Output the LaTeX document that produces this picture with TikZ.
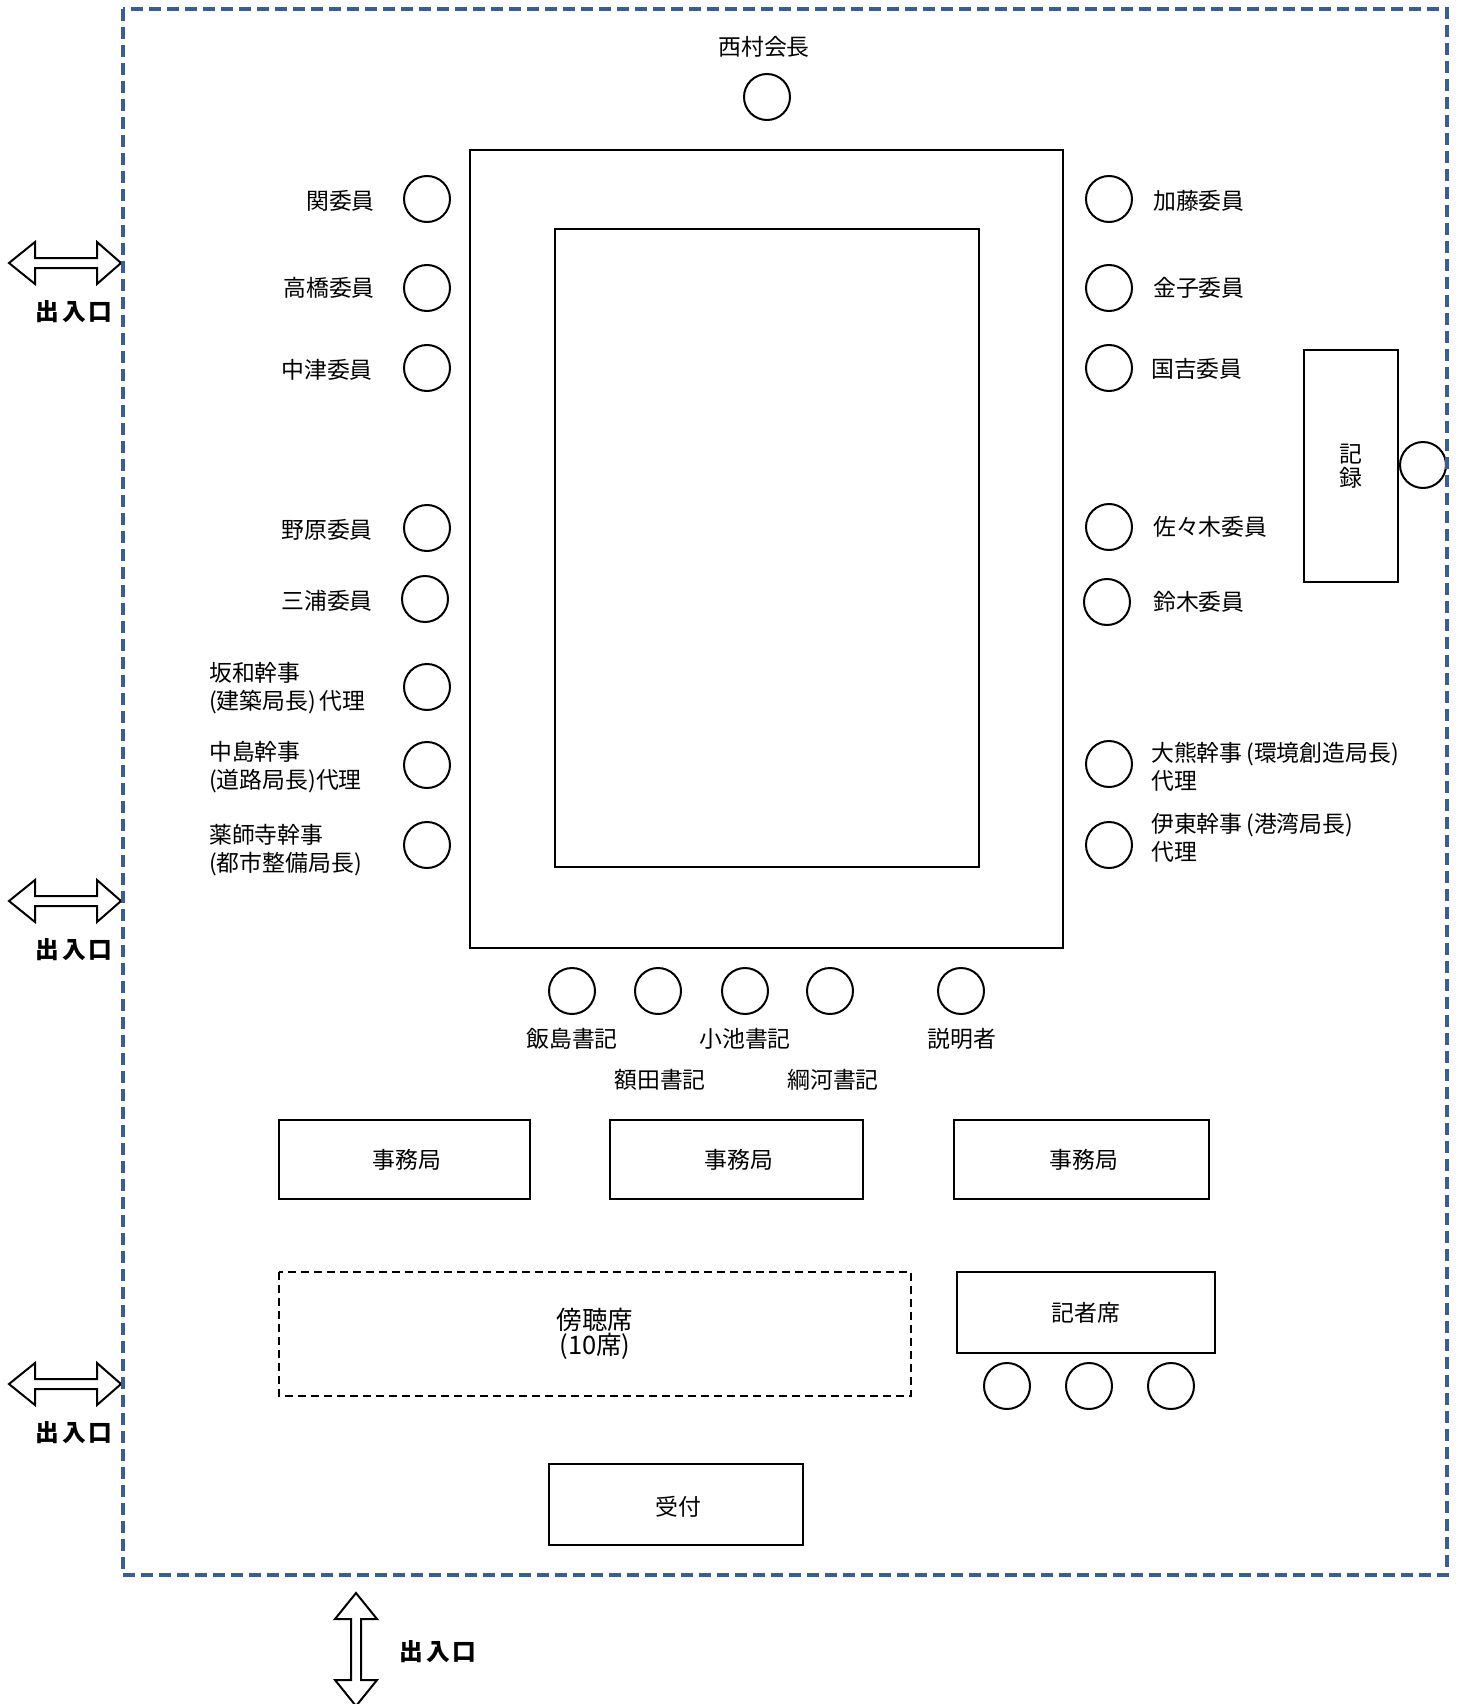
\documentclass[tikz,border=0pt]{standalone}
\usepackage{fontspec}
\setmainfont{Noto Sans CJK JP}
\definecolor{borderblue}{RGB}{59,94,145}

\begin{document}
\begin{tikzpicture}[x = 0.2mm, y = -0.2mm, font = \fontsize{13}{16}\selectfont,
    seat/.style = {draw, circle, line width = 0.4mm, minimum size = 9.2mm, inner sep = 0pt},
    desk/.style = {draw, line width = 0.4mm},
    door/.style = {draw, line width = 0.4mm, fill = white, line join = miter},
    doorlabel/.style = {font = \fontsize{13.5}{16}\selectfont\bfseries}]
        \useasboundingbox (0,0) rectangle (1461,1704);

        % table
        \draw[desk] (470,150) rectangle (1063,948);
        \draw[desk] (555,229) rectangle (979,867);

        \node[seat] (chair) at (767,97) {};
        \node (chairname) at (764,47) {西村会長};

        \node[seat] (l1) at (427,199) {};
        \node[seat] (l2) at (427,288) {};
        \node[seat] (l3) at (427,368) {};
        \node[seat] (l4) at (427,528) {};
        \node[seat] (l5) at (425,599) {};
        \node[seat] (l6) at (427,687) {};
        \node[seat] (l7) at (427,765) {};
        \node[seat] (l8) at (427,845) {};

        \node[anchor = east] (seki) at (381,201) {関委員};
        \node[anchor = east] (takahashi) at (381,288) {高橋委員};
        \node[anchor = east] (nakatsu) at (379,370) {中津委員};
        \node[anchor = east] (nohara) at (379,530) {野原委員};
        \node[anchor = east] (miura) at (379,601) {三浦委員};
        \node[anchor = west, align = left] (sakawa) at (203,688) {坂和幹事\\(建築局長)\,代理};
        \node[anchor = west, align = left] (nakajima) at (203,767) {中島幹事\\(道路局長)代理};
        \node[anchor = west, align = left] (yakushiji) at (203,850) {薬師寺幹事\\(都市整備局長)};

        \node[seat] (r1) at (1109,199) {};
        \node[seat] (r2) at (1109,288) {};
        \node[seat] (r3) at (1109,368) {};
        \node[seat] (r4) at (1109,527) {};
        \node[seat] (r5) at (1107,602) {};
        \node[seat] (r6) at (1109,764) {};
        \node[seat] (r7) at (1109,845) {};

        \node[anchor = west] (kato) at (1147,201) {加藤委員};
        \node[anchor = west] (kaneko) at (1147,288) {金子委員};
        \node[anchor = west] (kuniyoshi) at (1145,369) {国吉委員};
        \node[anchor = west] (sasaki) at (1147,527) {佐々木委員};
        \node[anchor = west] (suzuki) at (1147,602) {鈴木委員};
        \node[anchor = west, align = left] (okuma) at (1145,767) {大熊幹事\,(環境創造局長)\\代理};
        \node[anchor = west, align = left] (ito) at (1145,838) {伊東幹事\,(港湾局長)\\代理};

        % record
        \node[seat] (recseat) at (1423,465) {};
        \draw[desk] (1304,350) rectangle (1398,582);
        \node[align = center, font = \fontsize{13}{13.5}\selectfont] (record) at (1351,466) {記\\録};

        \node[seat] (b1) at (572,991) {};
        \node[seat] (b2) at (658,991) {};
        \node[seat] (b3) at (745,991) {};
        \node[seat] (b4) at (830,991) {};
        \node[seat] (b5) at (961,991) {};

        \node (iijima) at (572,1039) {飯島書記};
        \node (koike) at (745,1039) {小池書記};
        \node (setsumei) at (962,1039) {説明者};
        \node (nukada) at (660,1080) {額田書記};
        \node (tsunakawa) at (833,1080) {綱河書記};

        % secretariat
        \draw[desk] (279,1120) rectangle (530,1199);
        \draw[desk] (610,1120) rectangle (863,1199);
        \draw[desk] (954,1120) rectangle (1209,1199);
        \node (jimuA) at (407,1160) {事務局};
        \node (jimuB) at (739,1160) {事務局};
        \node (jimuC) at (1084,1160) {事務局};

        \draw[line width = 0.4mm, dash pattern = on 1.6mm off 1mm] (279,1272) rectangle (911,1396);
        \node[align = center, font = \fontsize{14.5}{13}\selectfont] (bocho) at (595,1334) {傍聴席\\(10席)};

        \draw[desk] (957,1272) rectangle (1215,1353);
        \node (kisha) at (1086,1313) {記者席};
        \node[seat] (p1) at (1007,1386) {};
        \node[seat] (p2) at (1089,1386) {};
        \node[seat] (p3) at (1171,1386) {};

        \draw[desk] (549,1464) rectangle (803,1545);
        \node (uketsuke) at (678,1507) {受付};

        % doors
        \foreach \y/\n in {263/1, 901/2, 1384/3} {
            \draw[door] (9,\y) -- (35,\y-21) -- (35,\y-5) -- (97,\y-5) -- (97,\y-21) -- (121,\y)
                -- (97,\y+21) -- (97,\y+5) -- (35,\y+5) -- (35,\y+21) -- cycle;
            \node[doorlabel] (door\n) at (74,\y+49) {出\hspace{1.5pt}入\hspace{1.5pt}口};
        }
        \draw[door] (356,1593) -- (377,1619) -- (361,1619) -- (361,1680) -- (377,1680) -- (356,1706)
            -- (335,1680) -- (351,1680) -- (351,1619) -- (335,1619) -- cycle;
        \node[doorlabel] (door4) at (438,1652) {出\hspace{1.5pt}入\hspace{1.5pt}口};

        \draw[borderblue, line width = 0.9mm, dash pattern = on 2.4mm off 1.2mm] (123,9) rectangle (1447,1575);
    \end{tikzpicture}
\end{document}
